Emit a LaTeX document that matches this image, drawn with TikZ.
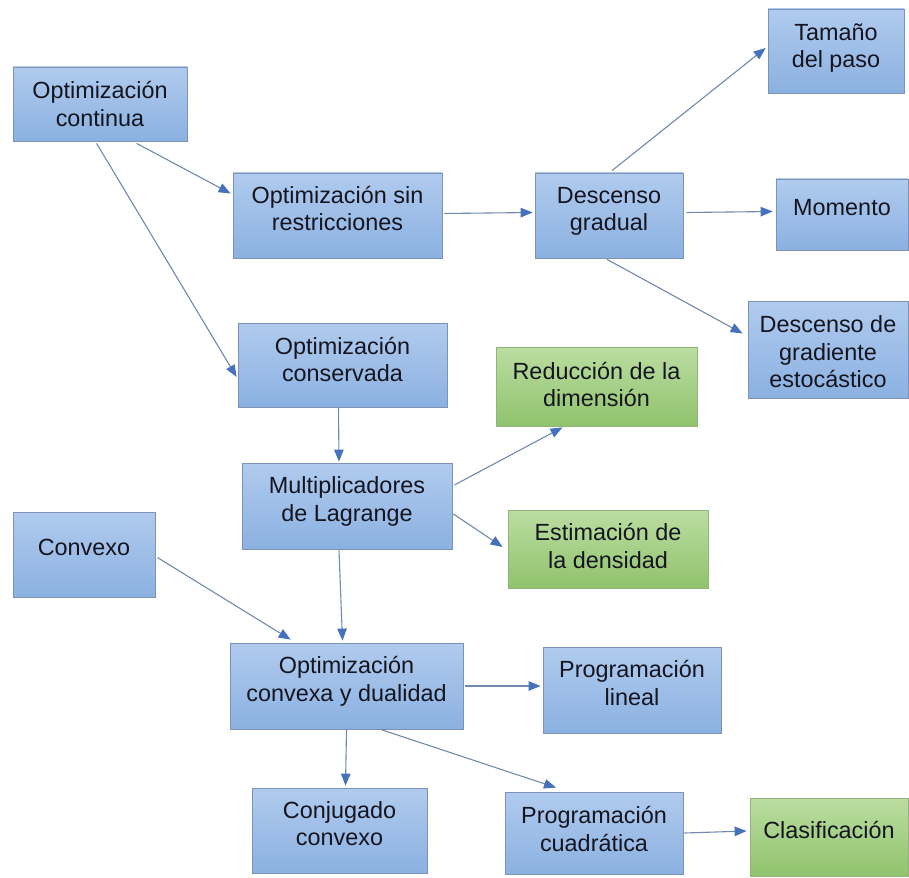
\documentclass[tikz,border=0pt]{standalone}
\usepackage{fontspec}
\setmainfont{Liberation Sans}
\usetikzlibrary{arrows.meta,calc}

\definecolor{bluetop}{HTML}{B0CBEE}
\definecolor{bluebot}{HTML}{8BB1E1}
\definecolor{blueline}{HTML}{7D92B4}
\definecolor{greentop}{HTML}{BBDDA1}
\definecolor{greenbot}{HTML}{90C36D}
\definecolor{greenline}{HTML}{94B27B}
\definecolor{linkline}{HTML}{7388AD}
\definecolor{tipblue}{HTML}{4672BC}
\definecolor{inktext}{HTML}{15151F}

% box text: centred lines, raised by the optional amount inside the box
\newcommand\bxt[2][4pt]{\raisebox{#1}[\height][\depth]{\begin{tabular}{@{}c@{}}#2\end{tabular}}}

\tikzset{
  card/.style={rectangle, draw=blueline, line width=0.8pt, inner sep=0pt,
    top color=bluetop, bottom color=bluebot, text=inktext,
    font=\fontsize{23.4}{27.5}\selectfont},
  blue card/.style={card},
  green card/.style={card, draw=greenline, top color=greentop, bottom color=greenbot},
  size/.style 2 args={minimum width=#1, minimum height=#2},
  link/.style={draw=linkline, line width=1.1pt,
    -{Triangle[length=12pt,width=9.5pt,fill=tipblue,color=tipblue]}},
}

\begin{document}
\begin{tikzpicture}[x=1pt,y=-1pt]
\useasboundingbox (0,0) rectangle (909,877);

% boxes
\node[blue card, size={174pt}{74pt}]  (oc)    at (100,104)     {\bxt[-3pt]{Optimización\\continua}};
\node[blue card, size={209pt}{85pt}]  (osr)   at (337.5,215.5) {\bxt{Optimización sin\\restricciones}};
\node[blue card, size={148pt}{85pt}]  (dg)    at (609,215.5)   {\bxt{Descenso\\gradual}};
\node[blue card, size={136pt}{84pt}]  (tp)    at (836,51)      {\bxt[2.5pt]{Tamaño\\del paso}};
\node[blue card, size={132pt}{71pt}]  (mom)   at (842,214.5)   {\bxt{Momento}};
\node[blue card, size={160pt}{97pt}]  (dge)   at (828,349.5)   {\bxt[-5pt]{Descenso de\\gradiente\\estocástico}};
\node[blue card, size={209pt}{84pt}]  (ocons) at (342.5,365)   {\bxt[2.5pt]{Optimización\\conservada}};
\node[green card, size={201pt}{79pt}] (red)   at (596.5,386.5) {\bxt[-1pt]{Reducción de la\\dimensión}};
\node[blue card, size={210pt}{86pt}]  (mult)  at (347,506)     {\bxt{Multiplicadores\\de Lagrange}};
\node[green card, size={200pt}{78pt}] (est)   at (608,549)     {\bxt[0pt]{Estimación de\\la densidad}};
\node[blue card, size={142pt}{85pt}]  (conv)  at (84,554.5)    {\bxt[5pt]{Convexo}};
\node[blue card, size={233pt}{86pt}]  (ocd)   at (346.5,686)   {\bxt{Optimización\\convexa y dualidad}};
\node[blue card, size={178pt}{86pt}]  (pl)    at (632,690)     {\bxt{Programación\\lineal}};
\node[blue card, size={175pt}{85pt}]  (cc)    at (339.5,830.5) {\bxt{Conjugado\\convexo}};
\node[blue card, size={178pt}{82pt}]  (pc)    at (594,833)     {\bxt[1pt]{Programación\\cuadrática}};
\node[green card, size={158pt}{78pt}] (clas)  at (829,837)     {\bxt{Clasificación}};

% connectors
\draw[link] ($(oc.south west)+(124,2)$) -- ($(osr.west)+(-2,-22)$);
\draw[link] ($(oc.south west)+(84,2)$)  -- ($(ocons.west)+(-1,12)$);
\draw[link] ($(osr.east)+(2,-2)$)       -- ($(dg.west)+(-2,-3)$);
\draw[link] ($(dg.north)+(3,-2)$)       -- ($(tp.west)+(-2,-3)$);
\draw[link] ($(dg.east)+(3,-3)$)        -- ($(mom.west)+(-3,-3)$);
\draw[link] ($(dg.south)+(-2,1)$)       -- ($(dge.west)+(-5,-16)$);
\draw[link] ($(ocons.south)+(-4,0)$)    -- ($(mult.north)+(-8,-1)$);
\draw[link] ($(mult.east)+(2,-21)$)     -- ($(red.south)+(-34,1)$);
\draw[link] ($(mult.east)+(1,8)$)       -- ($(est.west)+(-5,-2)$);
\draw[link] ($(mult.south)+(-8,1)$)     -- ($(ocd.north)+(-4,-2)$);
\draw[link] ($(conv.east)+(2,3)$)       -- ($(ocd.north west)+(61,-3)$);
\draw[link] ($(ocd.east)+(2,0)$)        -- ($(pl.west)+(-2,-4)$);
\draw[link] ($(ocd.south)+(0,0)$)       -- ($(cc.north)+(6,-2)$);
\draw[link] ($(ocd.south)+(34,0)$)      -- ($(pc.north)+(-38,-4)$);
\draw[link] ($(pc.east)+(1,0)$)         -- ($(clas.west)+(-3,-6)$);
\end{tikzpicture}
\end{document}
